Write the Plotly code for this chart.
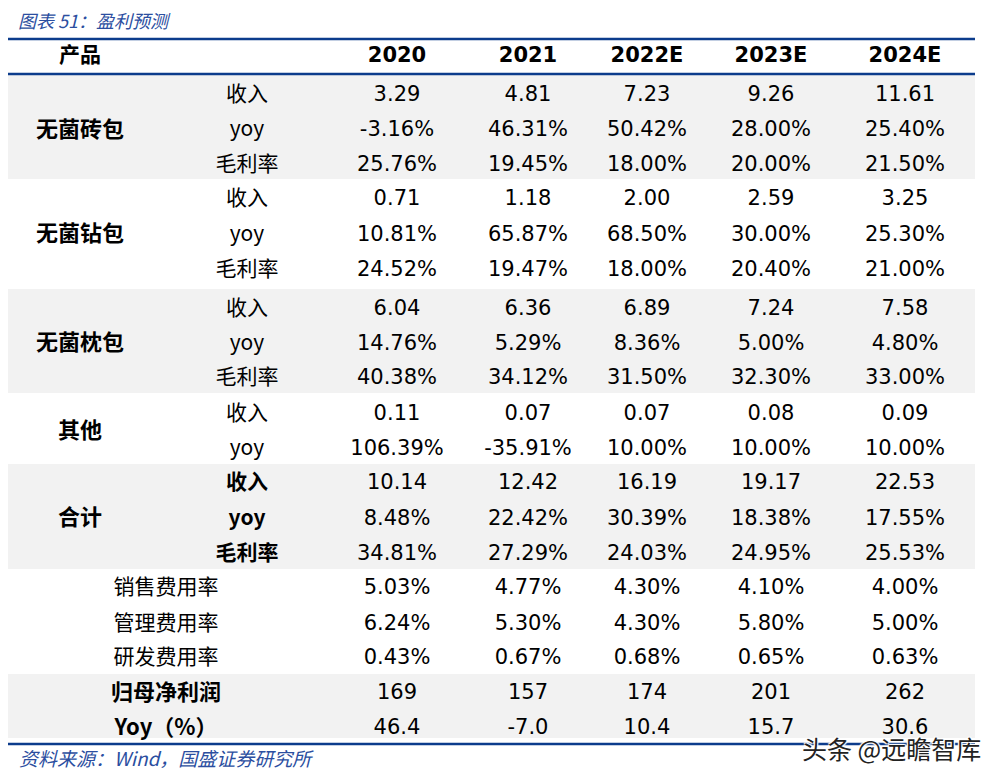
import plotly.graph_objects as go

# ---------------- data ----------------
years = ["2020", "2021", "2022E", "2023E", "2024E"]
products = ["无菌砖包", "无菌钻包", "无菌枕包", "其他", "合计"]
sub_items = ["收入", "yoy", "毛利率"]

brick_rev = [3.29, 4.81, 7.23, 9.26, 11.61]
brick_yoy = [-3.16, 46.31, 50.42, 28.00, 25.40]
brick_gm = [25.76, 19.45, 18.00, 20.00, 21.50]
diamond_rev = [0.71, 1.18, 2.00, 2.59, 3.25]
diamond_yoy = [10.81, 65.87, 68.50, 30.00, 25.30]
diamond_gm = [24.52, 19.47, 18.00, 20.40, 21.00]
pillow_rev = [6.04, 6.36, 6.89, 7.24, 7.58]
pillow_yoy = [14.76, 5.29, 8.36, 5.00, 4.80]
pillow_gm = [40.38, 34.12, 31.50, 32.30, 33.00]
other_rev = [0.11, 0.07, 0.07, 0.08, 0.09]
other_yoy = [106.39, -35.91, 10.00, 10.00, 10.00]
total_rev = [10.14, 12.42, 16.19, 19.17, 22.53]
total_yoy = [8.48, 22.42, 30.39, 18.38, 17.55]
total_gm = [34.81, 27.29, 24.03, 24.95, 25.53]

expense_items = ["销售费用率", "管理费用率", "研发费用率"]
sales_exp = [5.03, 4.77, 4.30, 4.10, 4.00]
admin_exp = [6.24, 5.30, 4.30, 5.80, 5.00]
rd_exp = [0.43, 0.67, 0.68, 0.65, 0.63]

profit_items = ["归母净利润", "Yoy（%）"]
net_profit = [169, 157, 174, 201, 262]
net_profit_yoy = [46.4, -7.0, 10.4, 15.7, 30.6]

title_text = "图表 51：盈利预测"
source_text = "资料来源：Wind，国盛证券研究所"
watermark_text = "头条 @远瞻智库"

# ---------------- layout constants ----------------
PAGE_W, PAGE_H = 1005, 784
OFF = 8  # default page body margin
FIG_W, FIG_H = PAGE_W - OFF - 8, PAGE_H - 2 * OFF
col_x = [397, 528, 647, 771, 905]
prod_x = 80
sub_x = 247
exp_x = 166
header_y = 57
row_y = [96, 131, 166, 200, 236, 271, 310, 345, 379, 415, 450,
         484, 520, 555, 589, 625, 659, 694, 729]
bands = [(74, 179, "#f2f2f2"), (179, 289, "#ffffff"), (289, 393, "#f2f2f2"),
         (393, 464, "#ffffff"), (464, 569, "#f2f2f2"), (569, 674, "#ffffff"),
         (674, 738, "#f2f2f2")]
line_y = [39, 74, 744]
table_left = OFF
table_right = 975
blue = "#0c3c8c"
title_blue = "#2b4ea0"

NUM_FONT = "DejaVu Sans, Noto Sans CJK SC"
CJK_FONT = "Noto Sans CJK SC, DejaVu Sans"

pct = lambda v: f"{v:.2f}%"
num2 = lambda v: f"{v:.2f}"

rows = [
    (brick_rev, num2), (brick_yoy, pct), (brick_gm, pct),
    (diamond_rev, num2), (diamond_yoy, pct), (diamond_gm, pct),
    (pillow_rev, num2), (pillow_yoy, pct), (pillow_gm, pct),
    (other_rev, num2), (other_yoy, pct),
    (total_rev, num2), (total_yoy, pct), (total_gm, pct),
    (sales_exp, pct), (admin_exp, pct), (rd_exp, pct),
    (net_profit, lambda v: f"{v:d}"), (net_profit_yoy, lambda v: f"{v:.1f}"),
]
sub_labels = (sub_items * 3) + sub_items[:2]
group_rows = [[0, 1, 2], [3, 4, 5], [6, 7, 8], [9, 10], [11, 12, 13]]

fig = go.Figure()


def text_trace(xs, ys, texts, family, size, weight="normal"):
    fig.add_trace(go.Scatter(x=xs, y=ys, text=texts, mode="text", textposition="middle center",
                             textfont=dict(family=family, size=size, color="#000000", weight=weight),
                             hoverinfo="skip", showlegend=False))


# cell values
vx, vy, vt = [], [], []
for i, (vals, fmt) in enumerate(rows):
    for j, v in enumerate(vals):
        vx.append(col_x[j]); vy.append(row_y[i]); vt.append(fmt(v))
text_trace(vx, vy, vt, NUM_FONT, 21)

# header
text_trace(col_x, [header_y] * len(years), years, NUM_FONT, 21, "bold")
text_trace([prod_x], [header_y], ["产品"], CJK_FONT, 21, "bold")

# product labels (bold)
px_, py_ = [], []
for g, idxs in enumerate(group_rows):
    px_.append(prod_x)
    py_.append(sum(row_y[k] for k in idxs) / len(idxs))
text_trace(px_, py_, products, CJK_FONT, 22, "bold")

# sub labels
text_trace([sub_x] * len(sub_labels), row_y[:len(sub_labels)], sub_labels, CJK_FONT, 21)
text_trace([sub_x] * 3, row_y[11:14], sub_items, CJK_FONT, 21, "bold")
# expense labels
text_trace([exp_x] * 3, row_y[14:17], expense_items, CJK_FONT, 21)
# profit labels
text_trace([exp_x] * 2, row_y[17:19], profit_items, CJK_FONT, 22, "bold")

shapes = []
for y0, y1, c in bands:
    shapes.append(dict(type="rect", xref="x", yref="y", x0=table_left, x1=table_right, y0=y0, y1=y1,
                       fillcolor=c, line=dict(width=0), layer="below"))
for ly in line_y:
    shapes.append(dict(type="line", xref="x", yref="y", x0=table_left, x1=table_right, y0=ly, y1=ly,
                       line=dict(color=blue, width=2.5), layer="above"))

annotations = [
    dict(x=16, y=20, xref="x", yref="y", text=title_text, showarrow=False, xanchor="left",
         yanchor="middle", font=dict(family=CJK_FONT, size=18, color=title_blue, style="italic")),
    dict(x=17, y=757, xref="x", yref="y", text=source_text, showarrow=False, xanchor="left",
         yanchor="middle", font=dict(family=CJK_FONT, size=19, color=title_blue, style="italic")),
    dict(x=983, y=748, xref="x", yref="y", text=watermark_text, showarrow=False, xanchor="right",
         yanchor="middle",
         font=dict(family=CJK_FONT, size=25, color="#222222",
                   shadow="1px 1px 1px #ffffff, -1px -1px 1px #ffffff, 1px -1px 1px #ffffff, -1px 1px 1px #ffffff")),
]

fig.update_layout(
    width=FIG_W, height=FIG_H, margin=dict(l=0, r=0, t=0, b=0, pad=0),
    paper_bgcolor="#ffffff", plot_bgcolor="#ffffff",
    xaxis=dict(range=[OFF, OFF + FIG_W], visible=False, fixedrange=True),
    yaxis=dict(range=[OFF + FIG_H, OFF], visible=False, fixedrange=True),
    shapes=shapes, annotations=annotations, showlegend=False,
)

fig.write_html("out.html")
